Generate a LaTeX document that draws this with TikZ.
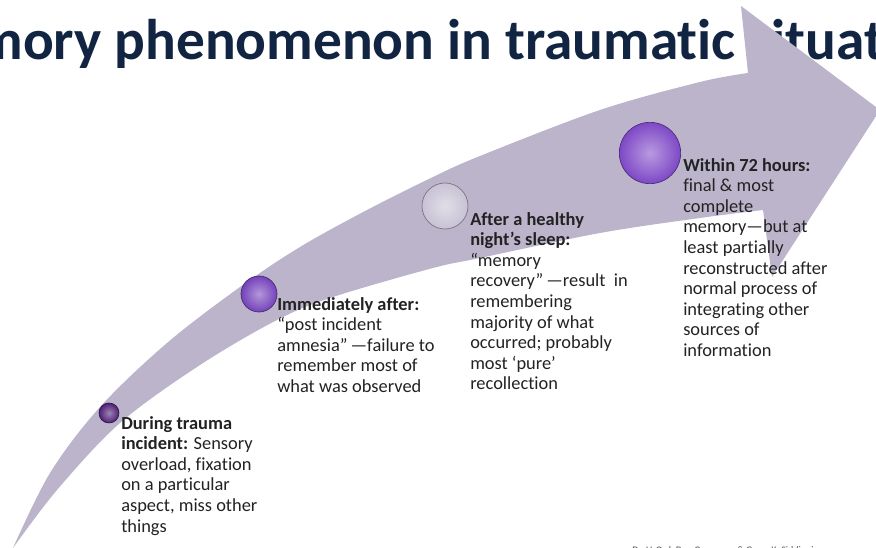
\documentclass[tikz,border=0pt]{standalone}
\usepackage{fontspec}
\setmainfont{Carlito}[Ligatures=NoCommon]
\definecolor{titlenavy}{RGB}{17,36,66}
\definecolor{bandgrey}{RGB}{187,180,202}
\definecolor{darkplum}{RGB}{78,32,118}
\definecolor{midplum}{RGB}{116,66,186}
\definecolor{paleplum}{RGB}{200,194,212}
\definecolor{brightplum}{RGB}{126,72,198}
\definecolor{bodyink}{RGB}{34,34,34}
\tikzset{
  bead/.style={circle, inner sep=0pt, draw=#1!60!black, line width=0.5pt,
    inner color=#1!55!white, outer color=#1},
  stage/.style={anchor=north west, inner sep=0pt, align=left, text=bodyink,
    font=\fontsize{13.8}{15.45}\selectfont}
}
\begin{document}
\begin{tikzpicture}[x=0.75pt,y=-0.75pt]
  \useasboundingbox (0,0) rectangle (876,548);
  \clip (0,0) rectangle (876,548);

  % heading, cut off on both sides
  \node[anchor=base west, inner sep=0pt, text=titlenavy,
    font=\fontsize{43}{50}\selectfont\bfseries] (heading) at (505,60)
    {\llap{Memory phenomenon in }traumatic situations};

  % curved arrow
  \fill[bandgrey] plot[smooth, tension=0.55] coordinates {(13,548) (57,490) (120,423) (200,365)
      (277,320) (333,297) (433,268) (480,258) (600,233) (700,218) (763,210)}
    -- (772,277) -- (880,110) -- (741,6) -- (748,73)
    -- plot[smooth, tension=0.55] coordinates {(748,73) (700,82) (600,110) (480,156) (433,177)
      (367,210) (300,247) (240,287) (167,343) (100,407) (50,473) (13,548)}
    -- cycle;

  % beads on the arrow
  \node[bead=darkplum, minimum size=15pt] (during) at (109,413) {};
  \node[bead=midplum, minimum size=27pt] (immediately) at (259,294) {};
  \node[bead=paleplum, minimum size=34.5pt] (sleep) at (445,206) {};
  \node[bead=brightplum, minimum size=46pt] (hours) at (650,153) {};

  % stage texts
  \node[stage] (duringtext) at (121,416) {\textbf{During trauma}\\
    \textbf{incident:} Sensory\\overload, fixation\\on a particular\\aspect, miss other\\things};
  \node[stage] (immediatelytext) at (277,297) {\textbf{Immediately after:}\\
    “post incident\\amnesia”\,—failure to\\remember most of\\what was observed};
  \node[stage] (sleeptext) at (470,212) {\textbf{After a healthy}\\\textbf{night’s sleep:}\\
    “memory\\recovery”\,—result\ \ in\\remembering\\majority of what\\occurred; probably\\most ‘pure’\\recollection};
  \node[stage] (hourstext) at (683,158) {\textbf{Within 72 hours:}\\final \& most\\complete\\
    memory—but at\\least partially\\reconstructed after\\normal process of\\integrating other\\sources of\\information};

  % credit line, cut at the bottom
  \node[anchor=base west, inner sep=0pt, text=black!70,
    font=\fontsize{7.5}{9}\selectfont] (credit) at (632,554)
    {Dr. V. Ord, Dan Ognyanov \& Gerry K. Siddiqui};
\end{tikzpicture}
\end{document}
